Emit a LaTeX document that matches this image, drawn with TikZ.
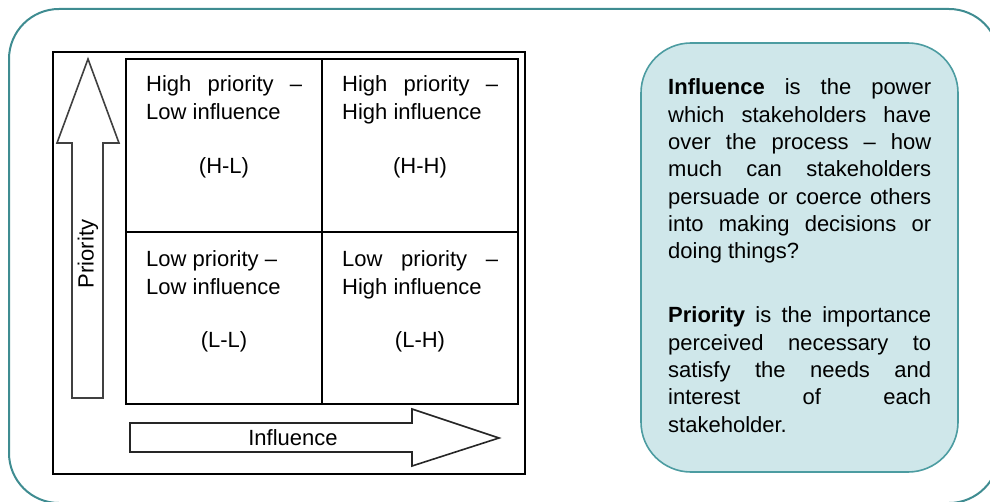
\documentclass[tikz,border=0pt]{standalone}
\usepackage{fontspec}
\setmainfont{Liberation Sans}
\definecolor{frameteal}{HTML}{3F8C91}
\definecolor{boxteal}{HTML}{4C9CA1}
\definecolor{boxfill}{HTML}{CFE7EA}
\tikzset{
  celltext/.style={anchor=base west, inner sep=0pt, text width=156pt, align=justify,
    font=\fontsize{22}{27.5}\selectfont},
  codetext/.style={anchor=base, inner sep=0pt, font=\fontsize{22}{27.5}\selectfont},
  desctext/.style={anchor=base west, inner sep=0pt, text width=263pt, align=justify,
    font=\fontsize{22}{27.3}\selectfont},
  blackline/.style={draw=black, line width=2pt},
  bigarrow/.style={draw=black!85, line width=1.6pt, fill=white, line join=miter},
}
\begin{document}
\begin{tikzpicture}[x=1pt, y=-1pt]
\useasboundingbox (0,0) rectangle (990,502);
\clip (0,0) rectangle (990,502);
% outer rounded frame
\draw[frameteal, line width=2pt, rounded corners=50pt] (9,9) rectangle (999,503);
% inner black frame
\draw[blackline] (53,52) rectangle (525,474);
% grid
\draw[blackline] (126,59) rectangle (518,404);
\draw[blackline] (322,59) -- (322,404);
\draw[blackline] (126,232) -- (518,232);
% up arrow (Priority)
\draw[bigarrow, draw=black!75] (88,59) -- (119,143) -- (103,143) -- (103,398) -- (72,398) -- (72,143) -- (57,143) -- cycle;
\node[codetext, anchor=center, rotate=90] (prio) at (88,254) {Priority};
% right arrow (Influence)
\draw[bigarrow] (130,423) -- (412,423) -- (412,409) -- (499,438) -- (412,466) -- (412,452) -- (130,452) -- cycle;
\node[codetext, anchor=center] (infl) at (293,438) {Influence};
% cell texts
\node[celltext] (hl) at (146,92) {High priority –\linebreak Low influence};
\node[celltext] (hh) at (342,92) {High priority –\linebreak High influence};
\node[celltext] (ll) at (146,267) {Low priority –\\Low influence};
\node[celltext] (lh) at (342,267) {Low priority –\linebreak High influence};
\node[codetext] (hlc) at (224,174) {(H-L)};
\node[codetext] (hhc) at (420,174) {(H-H)};
\node[codetext] (llc) at (224,348) {(L-L)};
\node[codetext] (lhc) at (420,348) {(L-H)};
% right description box
\draw[boxteal, fill=boxfill, line width=1.6pt, rounded corners=50pt] (641,43) rectangle (958,472);
\node[desctext] (infdesc) at (668,95) {\textbf{Influence} is the power\linebreak
which stakeholders have\linebreak
over the process – how\linebreak
much can stakeholders\linebreak
persuade or coerce others\linebreak
into making decisions or\linebreak
doing things?};
\node[desctext] (priodesc) at (668,323) {\textbf{Priority} is the importance\linebreak
perceived necessary to\linebreak
satisfy the needs and\linebreak
interest of each\linebreak
stakeholder.};
\end{tikzpicture}
\end{document}
